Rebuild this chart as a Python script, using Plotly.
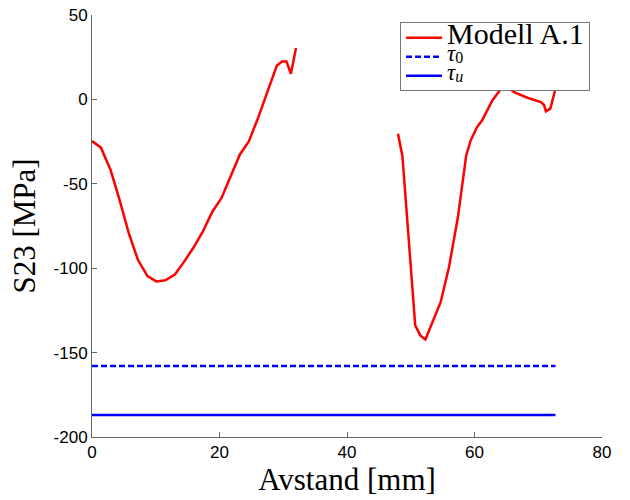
import plotly.graph_objects as go

# Red curve, segment 1 and segment 2 (gap in between)
x_a = [0, 1.4, 2.9, 4.2, 5.8, 7.2, 8.7, 10.1, 11.5, 13.0, 14.4, 15.9, 17.4, 18.9, 20.3,
       21.7, 23.2, 24.6, 26.1, 27.5, 29.0, 29.8, 30.5, 31.2, 32.0]
y_a = [-24.7, -28.6, -41.7, -57.9, -79.6, -95, -104.7, -107.8, -107.2, -103.7, -96.4,
       -87.9, -78.2, -66.4, -58.5, -46, -32.6, -24.9, -10.5, 4.3, 20.1, 22.5, 22.5, 15.2, 30.4]
x_b = [48.0, 48.7, 50.7, 51.5, 52.3, 53.6, 54.7, 56.0, 57.4, 58.7, 59.4, 60.4, 61.2,
       62.8, 64.1, 65.6, 66.2, 68.3, 70.4, 70.9, 71.2, 71.9, 72.7]
y_b = [-20.3, -33.8, -133.9, -139.8, -142.2, -129.9, -120, -99.3, -69.7, -33.2, -24.3,
       -16.4, -12.4, -0.6, 6, 6, 4.3, 1, -1.6, -3.2, -7.1, -5.5, 6.3]
x_lim = [0, 72.7]
tau0 = -158
tauu = -187

x_ticks = [0, 20, 40, 60, 80]
y_ticks = [-200, -150, -100, -50, 0, 50]
y_tick_text = ["-200", "-150", "-100", "-50", "0", "50"]

fig = go.Figure()
fig.add_trace(go.Scatter(x=x_a + [None] + x_b, y=y_a + [None] + y_b, mode="lines",
                         line=dict(color="#ff0000", width=2.5),
                         name='<span style="font-size:30px;baseline-shift:-2px">Modell A.1</span>'))
fig.add_trace(go.Scatter(x=x_lim, y=[tau0, tau0], mode="lines",
                         line=dict(color="#0000ff", width=2.5, dash="6px,3px"),
                         name='<span style="font-size:23px"><i>τ</i></span><sub><span style="font-size:16px">0</span></sub>'))
fig.add_trace(go.Scatter(x=x_lim, y=[tauu, tauu], mode="lines",
                         line=dict(color="#0000ff", width=2.5),
                         name='<span style="font-size:23px"><i>τ</i></span><sub><span style="font-size:16px"><i>u</i></span></sub>'))

fig.update_layout(
    width=630, height=500,
    margin=dict(l=92, r=28, t=15, b=63, autoexpand=False),
    paper_bgcolor="white", plot_bgcolor="white",
    showlegend=True,
    legend=dict(x=0.604, y=0.983, xanchor="left", yanchor="top",
                font=dict(family="Liberation Serif", size=11, color="black"),
                bgcolor="white", bordercolor="#777", borderwidth=1,
                tracegroupgap=0, itemwidth=36),
    xaxis=dict(range=[0, 80], tickvals=x_ticks, ticks="inside", ticklen=5, automargin=False,
               showline=True, linecolor="#666", linewidth=1, tickcolor="#666",
               showgrid=False, zeroline=False,
               tickfont=dict(family="Liberation Sans", size=17, color="black"),
               title=dict(text="Avstand [mm]", font=dict(family="Liberation Serif", size=31, color="black"),
                          standoff=4)),
    yaxis=dict(range=[-200, 50], tickvals=y_ticks, ticktext=y_tick_text, ticks="inside", ticklen=5,
               automargin=False,
               showline=True, linecolor="#666", linewidth=1, tickcolor="#666",
               showgrid=False, zeroline=False,
               tickfont=dict(family="Liberation Sans", size=17, color="black"),
               title=dict(text="S23 [MPa]", font=dict(family="Liberation Serif", size=31, color="black"),
                          standoff=8)),
)
fig.write_html("out.html", config={"displayModeBar": False},
               post_script="document.body.style.margin='0';")
